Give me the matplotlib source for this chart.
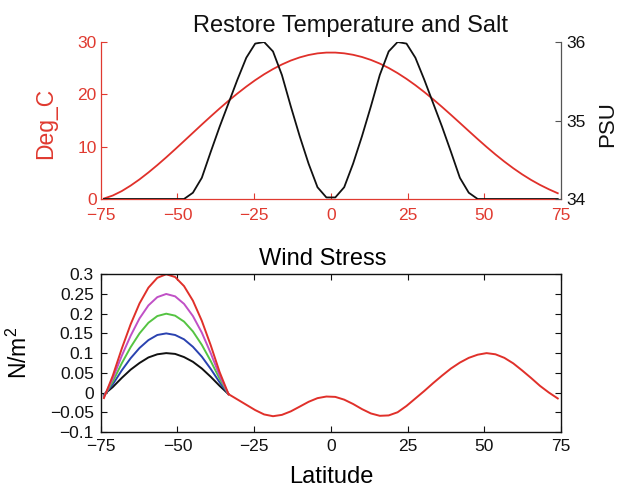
import matplotlib
matplotlib.use("Agg")
import matplotlib.pyplot as plt
import numpy as np

plt.rcParams['font.family'] = ['Liberation Sans', 'DejaVu Sans']
plt.rcParams['mathtext.default'] = 'regular'

# ---------------- data ----------------
lat_s = [-73.95, -71.05, -68.15, -65.25, -62.35, -59.45, -56.55, -53.65, -50.75,
         -47.85, -44.95, -42.05, -39.15, -36.25, -33.35, -30.45, -27.55, -24.65,
         -21.75, -18.85, -15.95, -13.05, -10.15, -7.25, -4.35, -1.45]
lat_n = [1.45, 4.35, 7.25, 10.15, 13.05, 15.95, 18.85, 21.75, 24.65, 27.55, 30.45,
         33.35, 36.25, 39.15, 42.05, 44.95, 47.85, 50.75, 53.65, 56.55, 59.45, 62.35,
         65.25, 68.15, 71.05, 73.95]
lat = lat_s + lat_n

temp_s = [0.09, 0.67, 1.51, 2.56, 3.75, 5.07, 6.48, 7.96, 9.50, 11.07, 12.65, 14.23,
          15.78, 17.30, 18.77, 20.16, 21.48, 22.71, 23.83, 24.83, 25.71, 26.46, 27.06,
          27.52, 27.83, 27.98]
temp_n = [27.98, 27.84, 27.56, 27.14, 26.58, 25.88, 25.04, 24.06, 22.96, 21.75, 20.44,
          19.05, 17.59, 16.08, 14.54, 12.99, 11.45, 9.95, 8.51, 7.15, 5.88, 4.71, 3.65,
          2.70, 1.86, 1.10]
temp = temp_s + temp_n

salt_s = [34.0, 34.0, 34.0, 34.0, 34.0, 34.0, 34.0, 34.0, 34.0, 34.0, 34.08, 34.27,
          34.60, 34.92, 35.22, 35.52, 35.80, 35.98, 36.0, 35.88, 35.58, 35.18, 34.80,
          34.45, 34.15, 34.02]
salt_n = [34.02, 34.15, 34.45, 34.80, 35.18, 35.58, 35.88, 36.0, 35.98, 35.80, 35.52,
          35.22, 34.92, 34.60, 34.27, 34.08, 34.0, 34.0, 34.0, 34.0, 34.0, 34.0, 34.0,
          34.0, 34.0, 34.0]
salt = salt_s + salt_n

# wind stress: southern lobe (first 14 grid points) differs between runs
lobe_black   = [-0.005, 0.014, 0.037, 0.058, 0.075, 0.089, 0.097, 0.100, 0.098, 0.090, 0.078, 0.061, 0.040, 0.017]
lobe_blue    = [-0.007, 0.021, 0.056, 0.087, 0.113, 0.133, 0.146, 0.150, 0.146, 0.135, 0.116, 0.091, 0.060, 0.026]
lobe_green   = [-0.009, 0.028, 0.074, 0.115, 0.150, 0.177, 0.194, 0.200, 0.195, 0.180, 0.155, 0.121, 0.080, 0.035]
lobe_magenta = [-0.011, 0.036, 0.093, 0.144, 0.188, 0.221, 0.242, 0.250, 0.244, 0.225, 0.194, 0.152, 0.100, 0.043]
lobe_red     = [-0.014, 0.043, 0.111, 0.173, 0.226, 0.266, 0.291, 0.300, 0.293, 0.270, 0.233, 0.182, 0.120, 0.052]
# common part from -33.35 northward
wind_common = [-0.004, -0.0175, -0.031, -0.0445, -0.0555, -0.060, -0.0566, -0.0477,
               -0.0357, -0.0235, -0.0142, -0.0101,
               -0.011, -0.018, -0.029, -0.042, -0.053, -0.059, -0.058, -0.050, -0.034,
               -0.015, 0.004, 0.024, 0.043, 0.061, 0.076, 0.088, 0.096, 0.100, 0.097,
               0.088, 0.074, 0.056, 0.037, 0.017, 0.000, -0.015]

lat_ticks = [-75, -50, -25, 0, 25, 50, 75]
lat_ticklabels = ['\u221275', '\u221250', '\u221225', '0', '25', '50', '75']
temp_ticks = [0, 10, 20, 30]
salt_ticks = [34, 35, 36]
wind_ticks = [-0.1, -0.05, 0, 0.05, 0.1, 0.15, 0.2, 0.25, 0.3]
wind_ticklabels = ['\u22120.1', '\u22120.05', '0', '0.05', '0.1', '0.15', '0.2', '0.25', '0.3']

# ---------------- styles ----------------
RED = '#e0302a'
AXRED = '#e03a30'
wind_series = [(lobe_black, '#111111'), (lobe_blue, '#2a42b0'), (lobe_green, '#55c442'),
               (lobe_magenta, '#c050c6'), (lobe_red, '#e0302a')]

fig = plt.figure(figsize=(6.22, 4.88), dpi=100)

# ---------------- top panel ----------------
ax1 = fig.add_axes([0.1619, 0.5922, 0.7400, 0.3217])
ax1.plot(lat, temp, color=RED, lw=1.3, zorder=3)
ax1.set_xlim(-75, 75)
ax1.set_ylim(0, 30)
ax1.set_xticks(lat_ticks)
ax1.set_xticklabels(lat_ticklabels)
ax1.set_yticks(temp_ticks)
for s in ['top', 'right']:
    ax1.spines[s].set_visible(False)
for s in ['left', 'bottom']:
    ax1.spines[s].set_color(AXRED)
    ax1.spines[s].set_linewidth(0.9)
ax1.tick_params(axis='both', direction='in', length=4, width=0.8, colors=AXRED,
                labelsize=12.5)
ax1.tick_params(axis='x', pad=6.5)
ax1.tick_params(axis='y', pad=3)
ax1.set_ylabel('Deg_C', color=AXRED, fontsize=16.5)
ax1.yaxis.set_label_coords(-0.095, 0.48)

ax2 = ax1.twinx()
ax2.plot(lat, salt, color='#111111', lw=1.3, zorder=2)
ax2.set_ylim(34, 36)
ax2.set_yticks(salt_ticks)
for s in ['top', 'left', 'bottom']:
    ax2.spines[s].set_visible(False)
ax2.spines['right'].set_color('#555555')
ax2.spines['right'].set_linewidth(0.9)
ax2.tick_params(axis='y', direction='in', length=4, width=0.8, colors='#555555',
                labelcolor='#111111', labelsize=12.5, pad=4)
ax2.set_ylabel('PSU', fontsize=16, color='#111111')
ax2.yaxis.set_label_coords(1.078, 0.48)
ax1.set_title('Restore Temperature and Salt', fontsize=17, x=0.543, pad=7,
              color='#111111')

# ---------------- bottom panel ----------------
ax3 = fig.add_axes([0.1619, 0.1148, 0.7400, 0.3232])
lat_lobe = lat[:14]
lat_common = lat[14:]
for lobe, col in wind_series:
    ax3.plot(lat_lobe + [lat_common[0]], lobe + [wind_common[0]], color=col, lw=1.4)
ax3.plot(lat_common, wind_common, color='#e0302a', lw=1.4)
ax3.set_xlim(-75, 75)
ax3.set_ylim(-0.1, 0.3)
ax3.set_xticks(lat_ticks)
ax3.set_xticklabels(lat_ticklabels)
ax3.set_yticks(wind_ticks)
ax3.set_yticklabels(wind_ticklabels)
for s in ax3.spines.values():
    s.set_color('#111111')
    s.set_linewidth(1.0)
ax3.tick_params(axis='both', direction='in', length=4, width=0.8, colors='#111111',
                labelsize=12.5, top=True, right=True)
ax3.tick_params(axis='x', pad=5)
ax3.tick_params(axis='y', pad=5)
ax3.set_ylabel('N/m$^2$', fontsize=16.5)
ax3.yaxis.set_label_coords(-0.15, 0.5)
ax3.set_xlabel('Latitude', fontsize=17)
ax3.xaxis.set_label_coords(0.5, -0.215)
ax3.set_title('Wind Stress', fontsize=17, x=0.483, pad=6.5)

fig.savefig('out.png', dpi=100)
